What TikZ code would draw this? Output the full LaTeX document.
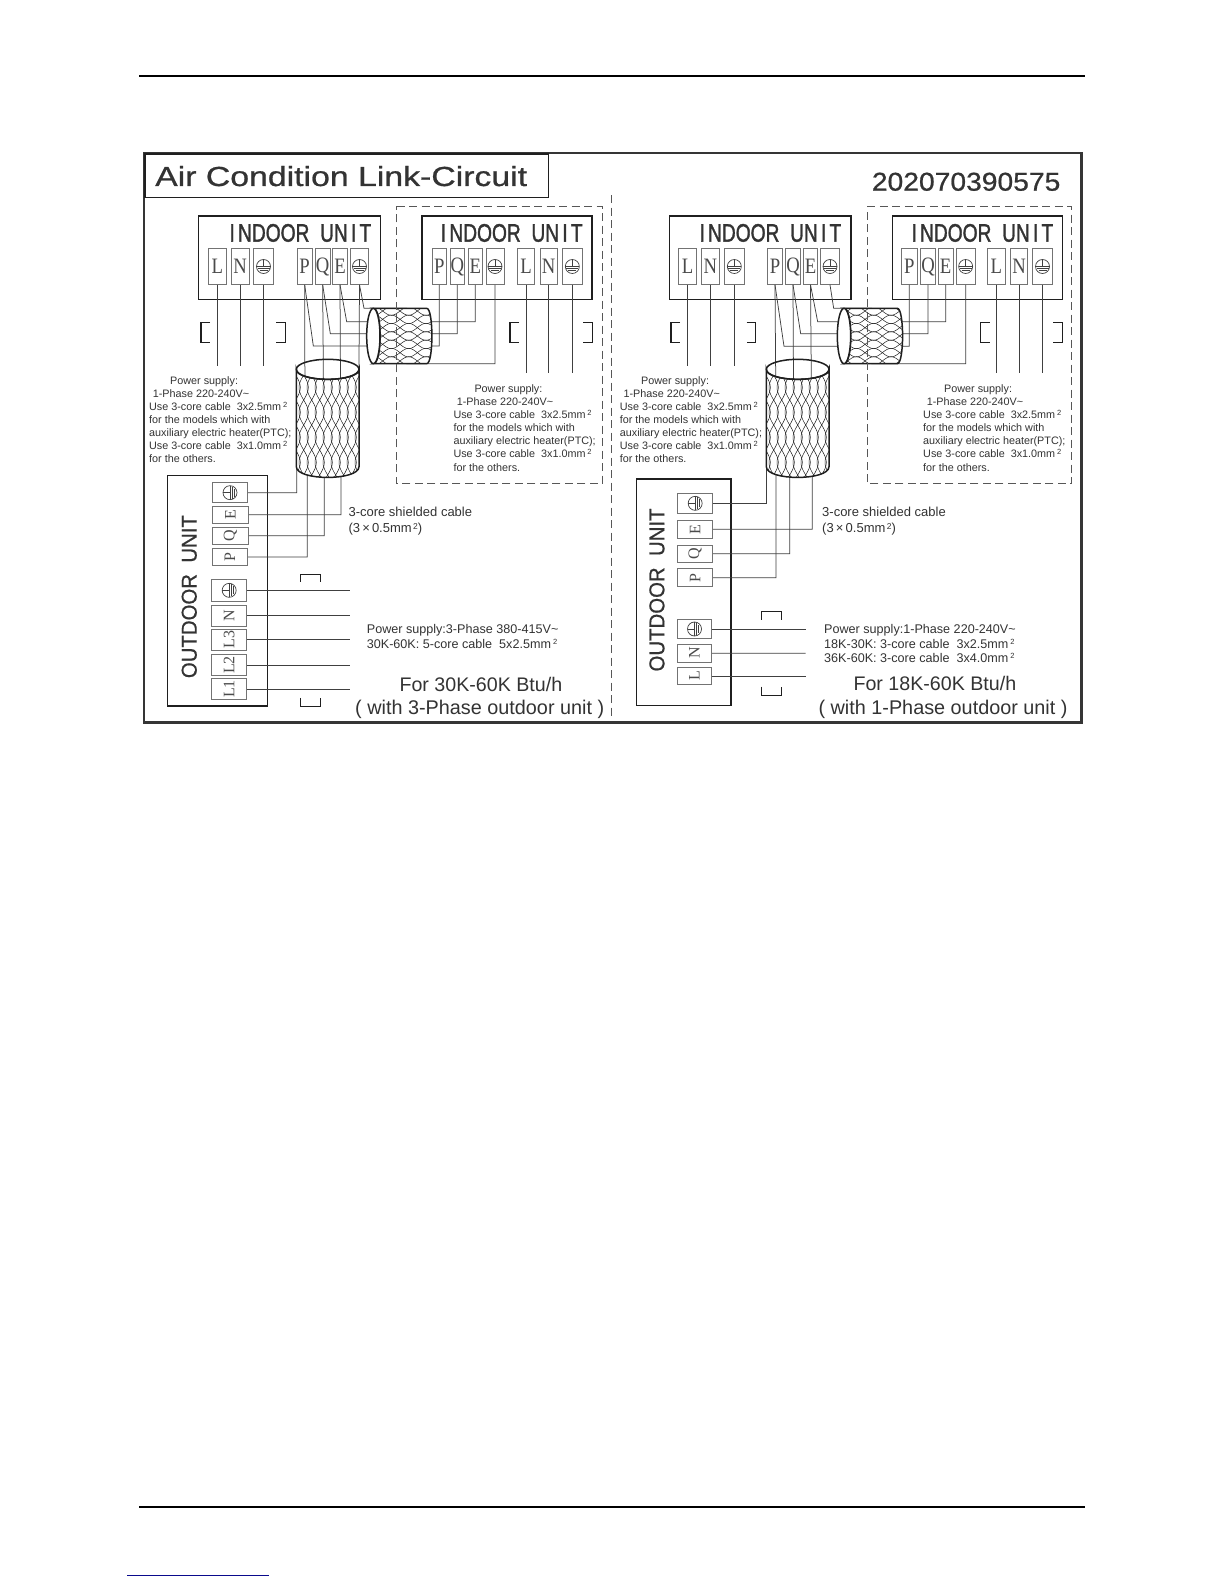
\documentclass[tikz,border=0pt]{standalone}
\usepackage{fontspec}
\usepackage{graphicx}
\setmainfont{Liberation Sans}
\newfontfamily\termfont{Liberation Serif}
\newfontfamily\headfont[FakeBold=1.6]{Liberation Sans}
\newfontfamily\midfont[FakeBold=0.7]{Liberation Sans}
\definecolor{ink}{gray}{0.12}
\definecolor{txt}{gray}{0.2}
\definecolor{wirec}{gray}{0.25}
\definecolor{termc}{gray}{0.45}
\definecolor{footblue}{RGB}{10,10,140}
\tikzset{
  wire/.style={draw=wirec,line width=0.75pt,line join=miter},
  unitbox/.style={draw=ink,line width=1.5pt,fill=white},
  framebox/.style={draw=ink!90,line width=2.4pt},
  termbox/.style={draw=termc,line width=0.9pt,inner sep=0pt,fill=white,text=ink!80},
  dashbox/.style={draw=ink!75,line width=0.75pt,dash pattern=on 8pt off 4.5pt},
  brack/.style={draw=ink,line width=1.4pt,line cap=butt},
  cableedge/.style={draw=ink,line width=1.5pt},
  braid/.style={draw=ink,line width=0.5pt},
  lab/.style={anchor=base west,inner sep=0pt,text=txt},
}
\newcommand{\mkterm}[6]{%
  \pgfmathsetmacro\tw{(#3-#2)/3}\pgfmathsetmacro\th{(#5-#4)/3}%
  \node[termbox,minimum width=\tw pt,minimum height=\th pt] (#1) at ({(#2+#3)/2},{(#4+#5)/2}) {#6};}
\newcommand{\ilet}[1]{\termfont\fontsize{22}{22}\selectfont\scalebox{.85}[1]{#1}}
\newcommand{\olet}[1]{\rotatebox{90}{\termfont\fontsize{16}{16}\selectfont #1}}
\newcommand{\gndsym}[2]{%
  \begin{scope}[shift={(#1.center)},rotate=#2]
    \draw[ink!85,line width=0.7pt] (0,0) circle[radius=21];
    \draw[ink!85,line width=0.7pt] (0,-21) -- (0,0);
    \draw[ink!85,line width=0.9pt] (-21,0) -- (21,0);
    \draw[ink!85,line width=1.2pt] (-18,7) -- (18,7);
    \draw[ink!85,line width=1.2pt] (-12,13) -- (12,13);
  \end{scope}}
\newcommand{\sq}{\raisebox{3.4pt}{\fontsize{7.5}{8}\selectfont 2}}
\newcommand{\sqb}{\raisebox{3pt}{\fontsize{8.5}{9}\selectfont\,2}}
\newcommand{\tld}{\char"7E\relax}
\newcommand{\sm}{\fontsize{10.8}{12}\selectfont}
\newcommand{\powerblock}[5]{%
  \node[lab] (#1a) at (#2,#5) {\sm Power supply:};
  \node[lab] (#1b) at (#3,#5+39) {\sm 1-Phase 220-240V\tld};
  \node[lab] (#1c) at (#4,#5+79) {\sm Use 3-core cable\ \ 3x2.5mm\,\sq};
  \node[lab] (#1d) at (#4,#5+118) {\sm for the models which with};
  \node[lab] (#1e) at (#4,#5+157) {\sm auxiliary electric heater(PTC);};
  \node[lab] (#1f) at (#4,#5+196) {\sm Use 3-core cable\ \ 3x1.0mm\,\sq};
  \node[lab] (#1g) at (#4,#5+236) {\sm for the others.};}
% vertical cable: cx, half width
\newcommand{\vcable}[2]{%
  \def\vpath{(#1-#2,658) .. controls (#1-#2,698) and (#1+#2,698) .. (#1+#2,658) -- (#1+#2,950) .. controls (#1+#2,993) and (#1-#2,993) .. (#1-#2,950) -- cycle}
  \fill[white] \vpath;
  \begin{scope}
    \clip \vpath;
    \foreach \i in {-6,...,6}{
      \draw[braid] plot[domain=620:990,samples=50,variable=\t] ({#1+\i*24+14*sin(\t/150*360)},\t);
      \draw[braid] plot[domain=620:990,samples=50,variable=\t] ({#1+\i*24-14*sin(\t/150*360)},\t);
    }
  \end{scope}
  \draw[cableedge] \vpath;
  \draw[cableedge] (#1,658) ellipse[x radius=#2,y radius=30];}
% horizontal cable: left ellipse centre x, right straight end x
\newcommand{\hcable}[2]{%
  \def\hpath{(#1,475) -- (#2,475) .. controls (#2+21,475) and (#2+21,641) .. (#2,641) -- (#1,641) .. controls (#1+27,641) and (#1+27,475) .. (#1,475) -- cycle}
  \fill[white] \hpath;
  \begin{scope}
    \clip \hpath;
    \foreach \i in {-4,...,4}{
      \draw[braid] plot[domain=660:910,samples=40,variable=\t] (\t,{558+\i*25+13*sin(\t/104*360)});
      \draw[braid] plot[domain=660:910,samples=40,variable=\t] (\t,{558+\i*25-13*sin(\t/104*360)});
    }
  \end{scope}
  \draw[cableedge] \hpath;
  \draw[cableedge,fill=white] (#1,558) ellipse[x radius=20,y radius=83];}
\newcommand{\opencorner}[5]{% left [ , right ] ; x1 x2 x3 x4 y
  \draw[brack] (#1+27,517) -- (#1,517) -- (#1,577) -- (#1+27,577);
  \draw[brack] (#2-27,517) -- (#2,517) -- (#2,577) -- (#2-27,577);
  \draw[brack] (#3+27,517) -- (#3,517) -- (#3,577) -- (#3+27,577);
  \draw[brack] (#4-27,517) -- (#4,517) -- (#4,577) -- (#4-27,577);}
\begin{document}
\begin{tikzpicture}[x=1pt,y=-1pt]
\useasboundingbox (0,0) rectangle (1224,1584);
\fill[white] (0,0) rectangle (1224,1584);
\coordinate (ruleAw) at (139,76); \coordinate (ruleAe) at (1085,76);
\coordinate (ruleBw) at (139,1507); \coordinate (ruleBe) at (1085,1507);
\coordinate (footw) at (127,1575); \coordinate (foote) at (269,1575);
\draw[black,line width=1.1pt] (ruleAw) -- (ruleAe);
\draw[black,line width=1.1pt] (ruleBw) -- (ruleBe);
\draw[footblue,line width=1pt] (footw) -- (foote);
\draw[framebox] (144,153) rectangle (1081.5,722.5);

%%%%%%%%%% LEFT PANEL
\begin{scope}[shift={(140,150)},x=0.33333pt,y=-0.33333pt]
\draw[draw=ink,line width=1.5pt] (15,12) rectangle (1225,143);
\node[lab] (title) at (45,108) {\resizebox{372pt}{20pt}{\midfont Air Condition Link-Circuit}};
\node[unitbox,minimum width=181.7pt,minimum height=83.3pt,inner sep=0pt] (ua) at (448.5,323) {};
\node[unitbox,minimum width=170pt,minimum height=83.3pt,inner sep=0pt] (ub) at (1101,323) {};
\node[lab] (uat) at (268,275) {\resizebox{141.7pt}{17.7pt}{\headfont I\,NDOOR\ \ UN\,I\,T}};
\node[lab] (ubt) at (902,275) {\resizebox{141.7pt}{17.7pt}{\headfont I\,NDOOR\ \ UN\,I\,T}};
\mkterm{aL}{206}{258}{296}{403}{\ilet{L}}
\mkterm{aN}{274}{327}{296}{403}{\ilet{N}}
\mkterm{aE}{340}{401}{296}{403}{}
\mkterm{aP2}{472}{516}{296}{403}{\ilet{P}}
\mkterm{aQ2}{526}{570}{296}{403}{\ilet{Q}}
\mkterm{aE2}{578}{622}{296}{403}{\ilet{E}}
\mkterm{aG2}{632}{685}{296}{403}{}
\mkterm{bP}{876}{920}{296}{403}{\ilet{P}}
\mkterm{bQ}{930}{974}{296}{403}{\ilet{Q}}
\mkterm{bE}{984}{1028}{296}{403}{\ilet{E}}
\mkterm{bG}{1038}{1092}{296}{403}{}
\mkterm{bL}{1132}{1184}{296}{403}{\ilet{L}}
\mkterm{bN}{1200}{1252}{296}{403}{\ilet{N}}
\mkterm{bG2}{1266}{1328}{296}{403}{}
\gndsym{aE}{0}\gndsym{aG2}{0}\gndsym{bG}{0}\gndsym{bG2}{0}
% outdoor
\node[unitbox,minimum width=100pt,minimum height=230.7pt,inner sep=0pt] (oa) at (232,1322) {};
\node[lab,rotate=90] (oat) at (170,1585) {\resizebox{163pt}{15pt}{\midfont OUTDOOR\ \ UNIT}};
\mkterm{oG}{217}{323}{998}{1058}{}
\mkterm{oE}{217}{325}{1068}{1120}{\olet{E}}
\mkterm{oQ}{217}{325}{1132}{1183}{\olet{Q}}
\mkterm{oP}{217}{323}{1195}{1247}{\olet{P}}
\mkterm{oG2}{215}{320}{1288}{1354}{}
\mkterm{oN}{215}{320}{1366}{1428}{\olet{N}}
\mkterm{oL3}{215}{320}{1438}{1500}{\olet{L3}}
\mkterm{oL2}{215}{320}{1514}{1576}{\olet{L2}}
\mkterm{oL1}{215}{320}{1586}{1648}{\olet{L1}}
\gndsym{oG}{90}\gndsym{oG2}{90}
% wires
\draw[wire] (aL.south) -- ++(0,245);
\draw[wire] (aN.south) -- ++(0,245);
\draw[wire] (aE.south) -- ++(0,245);
\draw[wire] (bL.south) -- ++(0,265);
\draw[wire] (bN.south) -- ++(0,265);
\draw[wire] (bG2.south) -- ++(0,265);
\draw[wire] (aP2.south) -- (520,588) -| (bP.south);
\draw[wire] (aQ2.south) -- (571,551) -| (bQ.south);
\draw[wire] (aE2.south) -- (620,515) -| (bE.south);
\draw[wire] (aG2.south) -- (672,475) -- (800,475) -- (800,641) -| (bG.south);
\draw[wire] (aP2.south) -- (495,800) -- (502,800) |- (oP.east);
\draw[wire] (aQ2.south) -- (551,800) -- (553,800) |- (oQ.east);
\draw[wire] (aE2.south) -- (602,800) -- (603,800) |- (oE.east);
\draw[wire] (aG2.south) -- (656,800) -- (470,800) |- (oG.east);
\draw[wire] (oG2.east) -- ++(310,0);
\draw[wire] (oN.east) -- ++(310,0);
\draw[wire] (oL3.east) -- ++(310,0);
\draw[wire] (oL2.east) -- ++(310,0);
\draw[wire] (oL1.east) -- ++(310,0);
\opencorner{183}{436}{1110}{1357}{0}
\draw[brack] (482,1296) -- (482,1273) -- (542,1273) -- (542,1296);
\draw[brack] (482,1644) -- (482,1670) -- (542,1670) -- (542,1644);
\hcable{700}{860}
\vcable{563}{94}
\draw[dashbox] (770,169) -- (1387,169) -- (1387,1001) -- (770,1001) -- cycle;
\powerblock{pa}{90}{38}{27}{703}
\powerblock{pb}{1003}{950}{940}{727}
\node[lab] (ca) at (625,1100) {\fontsize{13}{14}\selectfont 3-core shielded cable};
\node[lab] (cb) at (625,1147) {\fontsize{13}{14}\selectfont (3\,×\,0.5mm\sqb)};
\node[lab] (pw1) at (680,1450) {\fontsize{12.6}{14}\selectfont Power supply:3-Phase 380-415V\tld};
\node[lab] (pw2) at (680,1495) {\fontsize{12.6}{14}\selectfont 30K-60K: 5-core cable\ \ 5x2.5mm\,\sq};
\node[lab] (fa) at (778,1625) {\resizebox{162.7pt}{!}{For 30K-60K Btu/h}};
\node[lab] (fb) at (645,1695) {\resizebox{249pt}{!}{( with 3-Phase outdoor unit )}};
\end{scope}

%%%%%%%%%% RIGHT PANEL
\begin{scope}[shift={(605,150)},x=0.33333pt,y=-0.33333pt]
\node[lab] (num) at (800,122) {\resizebox{188.5pt}{18pt}{\midfont 202070390575}};
\node[unitbox,minimum width=181.7pt,minimum height=83.3pt,inner sep=0pt] (uc) at (465.5,323) {};
\node[unitbox,minimum width=170pt,minimum height=83.3pt,inner sep=0pt] (ud) at (1118,323) {};
\node[lab] (uct) at (283,275) {\resizebox{141.7pt}{17.7pt}{\headfont I\,NDOOR\ \ UN\,I\,T}};
\node[lab] (udt) at (919,275) {\resizebox{141.7pt}{17.7pt}{\headfont I\,NDOOR\ \ UN\,I\,T}};
\mkterm{cL}{220}{275}{296}{403}{\ilet{L}}
\mkterm{cN}{290}{342}{296}{403}{\ilet{N}}
\mkterm{cE}{358}{418}{296}{403}{}
\mkterm{cP2}{487}{533}{296}{403}{\ilet{P}}
\mkterm{cQ2}{541}{587}{296}{403}{\ilet{Q}}
\mkterm{cE2}{595}{638}{296}{403}{\ilet{E}}
\mkterm{cG2}{647}{703}{296}{403}{}
\mkterm{dP}{890}{936}{296}{403}{\ilet{P}}
\mkterm{dQ}{946}{992}{296}{403}{\ilet{Q}}
\mkterm{dE}{1000}{1044}{296}{403}{\ilet{E}}
\mkterm{dG}{1054}{1110}{296}{403}{}
\mkterm{dL}{1148}{1200}{296}{403}{\ilet{L}}
\mkterm{dN}{1216}{1268}{296}{403}{\ilet{N}}
\mkterm{dG2}{1282}{1343}{296}{403}{}
\gndsym{cE}{0}\gndsym{cG2}{0}\gndsym{dG}{0}\gndsym{dG2}{0}
\node[unitbox,minimum width=94.7pt,minimum height=226.7pt,inner sep=0pt] (pa0) at (236,1327) {};
\node[lab,rotate=90] (pat) at (178,1565) {\resizebox{163pt}{15pt}{\midfont OUTDOOR\ \ UNIT}};
\mkterm{pG}{218}{323}{1030}{1090}{}
\mkterm{pE}{218}{323}{1111}{1165}{\olet{E}}
\mkterm{pQ}{218}{323}{1185}{1237}{\olet{Q}}
\mkterm{pP}{218}{323}{1256}{1310}{\olet{P}}
\mkterm{pG2}{217}{320}{1408}{1466}{}
\mkterm{pN}{217}{320}{1483}{1536}{\olet{N}}
\mkterm{pL}{217}{320}{1552}{1604}{\olet{L}}
\gndsym{pG}{90}\gndsym{pG2}{90}
\coordinate (vsw) at (485,950);
\draw[wire] (cL.south) -- ++(0,245);
\draw[wire] (cN.south) -- ++(0,245);
\draw[wire] (cE.south) -- ++(0,245);
\draw[wire] (dL.south) -- ++(0,265);
\draw[wire] (dN.south) -- ++(0,265);
\draw[wire] (dG2.south) -- ++(0,265);
\draw[wire] (cP2.south) -- (537,589) -| (dP.south);
\draw[wire] (cQ2.south) -- (587,551) -| (dQ.south);
\draw[wire] (cE2.south) -- (638,515) -| (dE.south);
\draw[wire] (cG2.south) -- (686,475) -- (800,475) -- (800,641) -| (dG.south);
\draw[wire] (cP2.south) -- (513,800) |- (pP.east);
\draw[wire] (cQ2.south) -- (566,800) -- (554,800) |- (pQ.east);
\draw[wire] (cE2.south) -- (620,800) -- (622,800) |- (pE.east);
\draw[wire] (vsw) |- (pG.east);
\draw[wire] (pG2.east) -- (602,1437);
\draw[wire] (pN.east) -- (602,1510);
\draw[wire] (pL.east) -- (602,1578);
\opencorner{198}{452}{1127}{1372}{0}
\draw[brack] (469,1410) -- (469,1384) -- (530,1384) -- (530,1410);
\draw[brack] (469,1610) -- (469,1636) -- (530,1636) -- (530,1610);
\hcable{717}{877}
\vcable{578}{94}
\coordinate (cdt) at (20,135); \coordinate (cdb) at (20,1708);
\draw[dashbox] (cdt) -- (cdb);
\draw[dashbox] (787,169) -- (1400,169) -- (1400,1001) -- (787,1001) -- cycle;
\powerblock{pc}{108}{55}{44}{703}
\powerblock{pd}{1017}{965}{954}{727}
\node[lab] (cc) at (651,1100) {\fontsize{13}{14}\selectfont 3-core shielded cable};
\node[lab] (cd) at (651,1147) {\fontsize{13}{14}\selectfont (3\,×\,0.5mm\sqb)};
\node[lab] (pw3) at (657,1450) {\fontsize{12.6}{14}\selectfont Power supply:1-Phase 220-240V\tld};
\node[lab] (pw4) at (657,1495) {\fontsize{12.6}{14}\selectfont 18K-30K: 3-core cable\ \ 3x2.5mm\,\sq};
\node[lab] (pw5) at (657,1537) {\fontsize{12.6}{14}\selectfont 36K-60K: 3-core cable\ \ 3x4.0mm\,\sq};
\node[lab] (fc) at (745,1623) {\resizebox{162.7pt}{!}{For 18K-60K Btu/h}};
\node[lab] (fd) at (640,1693) {\resizebox{249pt}{!}{( with 1-Phase outdoor unit )}};
\end{scope}
\end{tikzpicture}
\end{document}
